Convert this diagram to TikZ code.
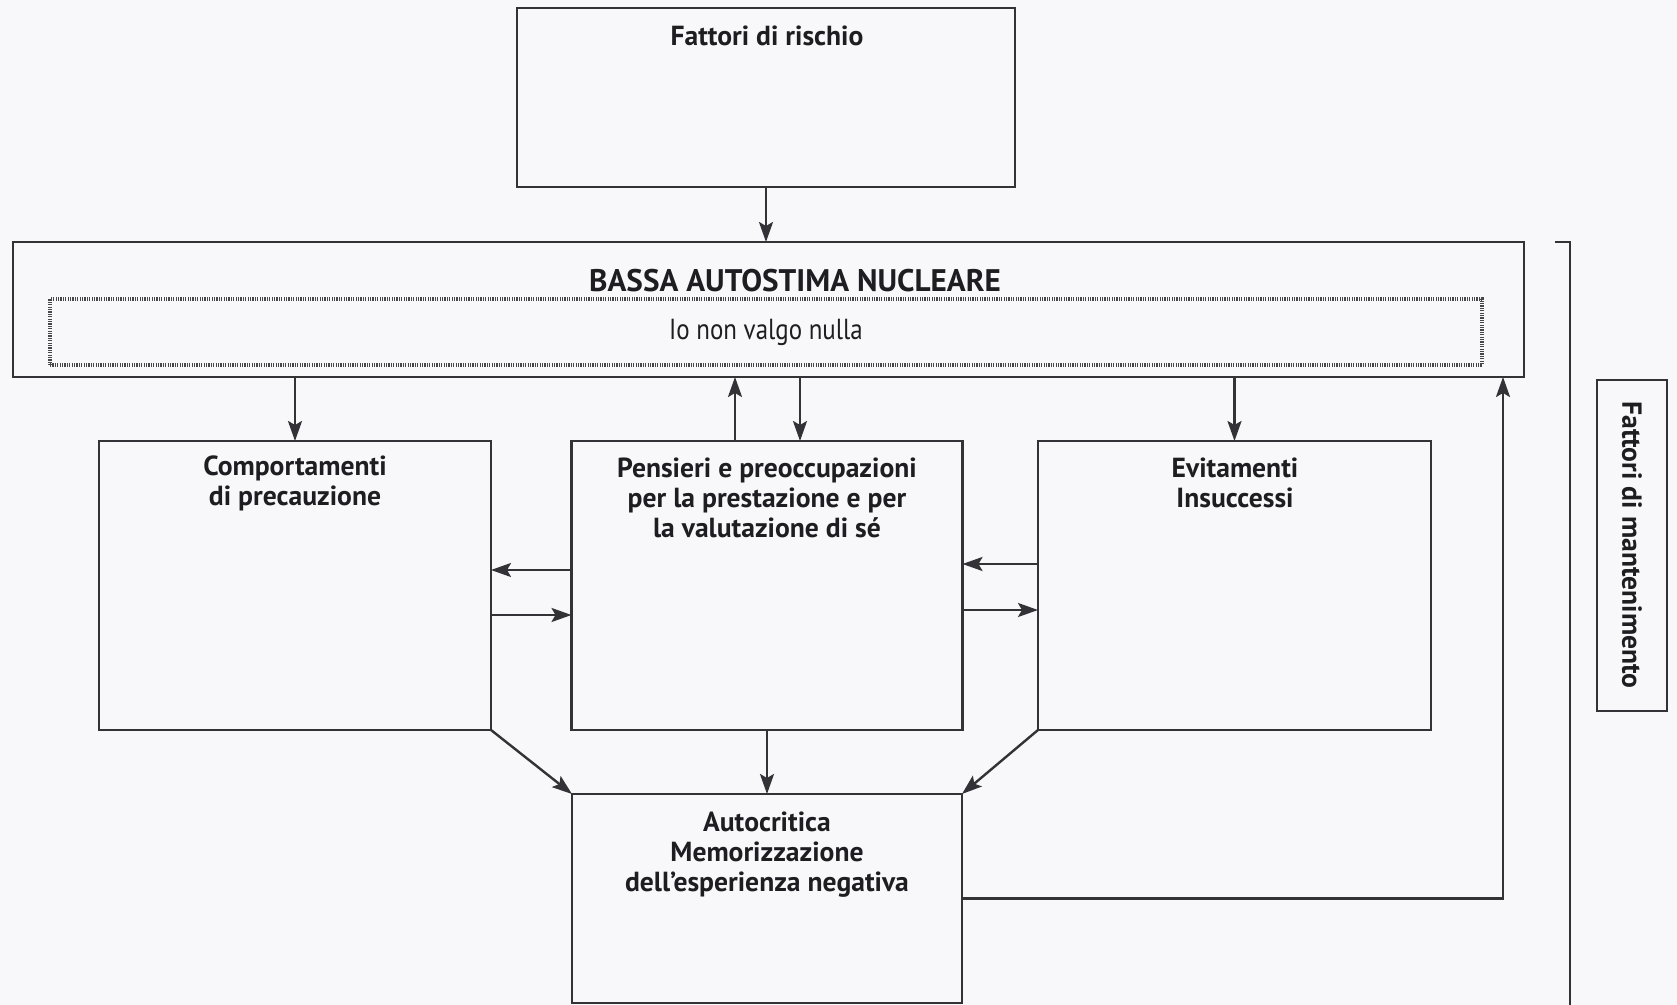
\documentclass[tikz,border=0pt]{standalone}
\usepackage{fontspec}
\setmainfont{PT Sans}
\usetikzlibrary{arrows.meta}
\definecolor{paper}{RGB}{248,248,251}
\definecolor{ink}{RGB}{30,30,34}
\definecolor{rule}{RGB}{50,50,55}
\begin{document}
\begin{tikzpicture}[x=0.5pt,y=-0.5pt,
  box/.style={draw=rule,line width=1.2pt,inner sep=0pt,outer sep=0pt},
  dotbox/.style={draw=rule!90,line width=1.8pt,dash pattern=on 0.6pt off 0.6pt,inner sep=0pt,outer sep=0pt},
  head/.style={text=ink,font=\bfseries\fontsize{13.8}{15}\selectfont,align=center,inner sep=0pt},
  title/.style={text=ink,font=\bfseries\fontsize{15.6}{17}\selectfont,align=center,inner sep=0pt},
  plain/.style={text=ink,font=\fontsize{14.5}{15}\selectfont,align=center,inner sep=0pt,xscale=0.86},
  arr/.style={draw=rule,line width=1.2pt,-{Stealth[length=10pt,width=7pt,inset=2pt]}},
  wire/.style={draw=rule,line width=1.2pt}]
% page
\fill[paper] (0,0) rectangle (1677,1005);
\useasboundingbox (0,0) rectangle (1677,1005);

% boxes
\node[box,minimum width=249pt,minimum height=89.5pt] (risk) at (766,97.5) {};
\node[box,minimum width=755.5pt,minimum height=67.5pt] (core) at (768.5,309.5) {};
\node[dotbox,minimum width=716pt,minimum height=33pt] (belief) at (766,332) {};
\node[box,minimum width=196pt,minimum height=144.5pt] (prec) at (295,585.5) {};
\node[box,minimum width=195.5pt,minimum height=144.5pt] (thoughts) at (767,585.5) {};
\node[box,minimum width=196.5pt,minimum height=144.5pt] (avoid) at (1234.5,585.5) {};
\node[box,minimum width=195pt,minimum height=104.5pt] (self) at (767,898.5) {};
\node[box,minimum width=35pt,minimum height=165.5pt] (maint) at (1632,545.5) {};

% labels
\node[head] (risklbl) at (767,36) {Fattori di rischio};
\node[title] (corelbl) at (795,281) {BASSA AUTOSTIMA NUCLEARE};
\node[plain] (belieflbl) at (766,332) {Io non valgo nulla};
\node[head] (preclbl) at (295,483) {Comportamenti\\di precauzione};
\node[head] (thoughtslbl) at (767,498) {Pensieri e preoccupazioni\\per la prestazione e per\\la valutazione di sé};
\node[head] (avoidlbl) at (1235,483) {Evitamenti\\Insuccessi};
\node[head] (selflbl) at (767,855) {Autocritica\\Memorizzazione\\dell’esperienza negativa};
\node[head,rotate=-90] (maintlbl) at (1632,545) {Fattori di mantenimento};

% connectors
\draw[arr] (risk.south) -- (risk.south |- core.north);
\draw[arr] (core.south -| prec.north) -- (prec.north);
\draw[arr] ([xshift=-16pt]thoughts.north) -- ([xshift=-16pt]thoughts.north |- core.south);
\draw[arr] ([xshift=16.5pt]thoughts.north |- core.south) -- ([xshift=16.5pt]thoughts.north);
\draw[arr] (core.south -| avoid.north) -- (avoid.north);

\draw[arr] ([yshift=7.75pt]thoughts.west) -- ([yshift=7.75pt]prec.east);
\draw[arr] ([yshift=-14.75pt]prec.east) -- ([yshift=-14.75pt]thoughts.west);
\draw[arr] ([yshift=10.75pt]avoid.west) -- ([yshift=10.75pt]thoughts.east);
\draw[arr] ([yshift=-12.25pt]thoughts.east) -- ([yshift=-12.25pt]avoid.west);

\draw[arr] (prec.south east) -- (self.north west);
\draw[arr] (thoughts.south) -- (self.north);
\draw[arr] (avoid.south west) -- (self.north east);

\draw[arr] (self.east) -| ([xshift=-10.5pt]core.south east);

% bracket gathering the maintenance loop
\coordinate (brtop) at (1555,242);
\coordinate (brbot) at (1570,1005);
\draw[wire] (brtop) -- (brtop -| brbot) -- (brbot);
\end{tikzpicture}
\end{document}
